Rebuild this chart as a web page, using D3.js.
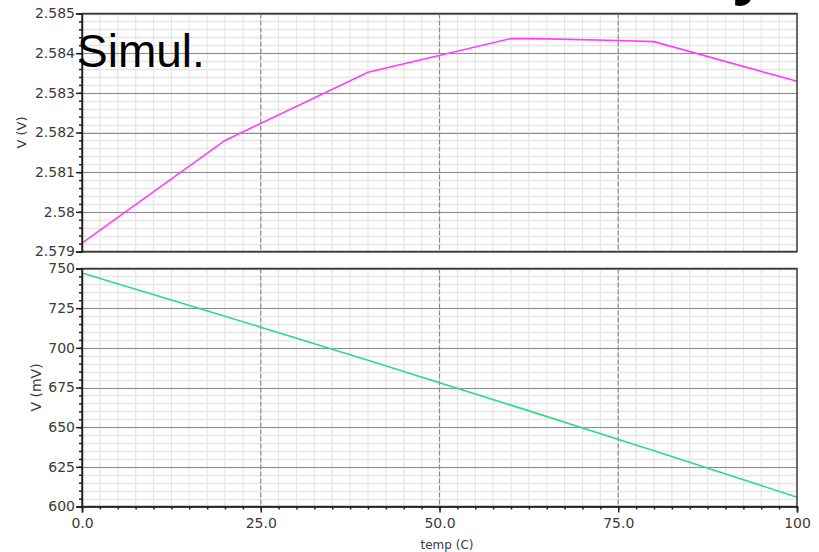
<!DOCTYPE html>
<html>
<head>
<meta charset="utf-8">
<script src="https://cdn.jsdelivr.net/npm/d3@7"></script>
<style>
  html, body { margin: 0; padding: 0; background: #fff; }
  svg { display: block; font-family: "DejaVu Sans", sans-serif; }
</style>
</head>
<body>
<svg id="chart" width="819" height="552"></svg>
<script>
// ---- data ----
const tempTop = [0, 20, 40, 60, 65, 75, 80, 100];
const vTop = [2.57921, 2.58180, 2.58352, 2.58437, 2.58436, 2.58432, 2.58429, 2.58329];
const tempBottom = [0, 20, 40, 60, 80, 100];
const vBottom = [747.1, 719.9, 692.2, 663.9, 635.2, 605.9];

const xTicks = [0, 25, 50, 75, 100];
const xTickLabels = ["0.0", "25.0", "50.0", "75.0", "100"];
const topTicks = [2.585, 2.584, 2.583, 2.582, 2.581, 2.580, 2.579];
const topTickLabels = ["2.585", "2.584", "2.583", "2.582", "2.581", "2.58", "2.579"];
const bottomTicks = [750, 725, 700, 675, 650, 625, 600];
const bottomTickLabels = ["750", "725", "700", "675", "650", "625", "600"];

const xTitle = "temp (C)";
const topTitle = "V (V)";
const bottomTitle = "V (mV)";
const overlayText = "Simul.";

// ---- layout ----
const svg = d3.select("#chart");
const L = 82, R = 797;
const panels = [
  { top: 13.5, bottom: 251.5, domain: [2.579, 2.585], ticks: topTicks, labels: topTickLabels,
    minorStep: 0.0002, xs: tempTop, ys: vTop, color: "#ff3dff", title: topTitle, titleX: 26, titleSize: 13 },
  { top: 268.5, bottom: 506.5, domain: [600, 750], ticks: bottomTicks, labels: bottomTickLabels,
    minorStep: 5, xs: tempBottom, ys: vBottom, color: "#2fdc86", title: bottomTitle, titleX: 41, titleSize: 14 }
];

const x = d3.scaleLinear().domain([0, 100]).range([L, R]);
const xMinor = d3.range(0, 100.0001, 2.5);

panels.forEach((p, pi) => {
  const y = d3.scaleLinear().domain(p.domain).range([p.bottom, p.top]);
  const n = Math.round((p.domain[1] - p.domain[0]) / p.minorStep);
  const yMinor = d3.range(0, n + 1).map(i => p.domain[0] + i * p.minorStep);
  const g = svg.append("g");

  // minor grid
  g.selectAll(".vmin").data(xMinor).join("line")
    .attr("x1", d => x(d)).attr("x2", d => x(d))
    .attr("y1", p.top).attr("y2", p.bottom)
    .attr("stroke", "#e6e6e6").attr("stroke-width", 1.3);
  g.selectAll(".hmin").data(yMinor).join("line")
    .attr("x1", L).attr("x2", R)
    .attr("y1", d => Math.round(y(d)) + 0.5).attr("y2", d => Math.round(y(d)) + 0.5)
    .attr("stroke", "#e6e6e6").attr("stroke-width", 1.3);

  // major grid
  g.selectAll(".hmaj").data(p.ticks).join("line")
    .attr("x1", L).attr("x2", R)
    .attr("y1", d => Math.round(y(d)) + 0.5).attr("y2", d => Math.round(y(d)) + 0.5)
    .attr("stroke", "#8c8c8c").attr("stroke-width", 1.2);
  g.selectAll(".vmaj").data(xTicks.slice(1, -1)).join("line")
    .attr("x1", d => x(d)).attr("x2", d => x(d))
    .attr("y1", p.top).attr("y2", p.bottom)
    .attr("stroke", "#8c8c8c").attr("stroke-width", 1.2)
    .attr("stroke-dasharray", "5,2");

  // data line
  const line = d3.line().x((d, i) => x(p.xs[i])).y(d => y(d));
  g.append("path").datum(p.ys)
    .attr("d", line)
    .attr("fill", "none")
    .attr("stroke", p.color)
    .attr("stroke-width", 1.6);

  // frame
  g.append("rect")
    .attr("x", L).attr("y", p.top)
    .attr("width", R - L).attr("height", p.bottom - p.top)
    .attr("fill", "none").attr("stroke", "#3a3a3a").attr("stroke-width", 1.5);

  // left axis: minor ticks
  const yAxisMinor = d3.axisLeft(y).tickValues(yMinor).tickSize(3).tickFormat("");
  const gm = g.append("g").attr("transform", `translate(${L},0)`).call(yAxisMinor);
  gm.select(".domain").remove();
  gm.selectAll("line").attr("stroke", "#222").attr("stroke-width", 1.5);

  // left axis: major ticks and labels
  const yAxis = d3.axisLeft(y).tickValues(p.ticks).tickSize(6).tickPadding(1)
    .tickFormat((d, i) => p.labels[i]);
  const ga = g.append("g").attr("transform", `translate(${L},0)`).call(yAxis);
  ga.select(".domain").attr("stroke", "#222").attr("stroke-width", 1.5);
  ga.selectAll("line").attr("stroke", "#222").attr("stroke-width", 1.5);
  ga.selectAll("text").style("font-size", "14px").attr("fill", "#3a3a3a")
    .style("font-family", "DejaVu Sans, sans-serif");

  // y title
  svg.append("text")
    .attr("transform", `translate(${p.titleX},${(p.top + p.bottom) / 2}) rotate(-90)`)
    .attr("text-anchor", "middle")
    .style("font-size", p.titleSize + "px")
    .style("font-family", "DejaVu Sans, sans-serif")
    .attr("fill", "#3a3a3a")
    .text(p.title);

  // bottom axis only on lower panel
  if (pi === 1) {
    const xAxisMinor = d3.axisBottom(x).tickValues(xMinor).tickSize(3).tickFormat("");
    const gxm = g.append("g").attr("transform", `translate(0,${p.bottom})`).call(xAxisMinor);
    gxm.select(".domain").remove();
    gxm.selectAll("line").attr("stroke", "#222").attr("stroke-width", 1.5);

    const xAxis = d3.axisBottom(x).tickValues(xTicks).tickSize(6).tickPadding(6)
      .tickFormat((d, i) => xTickLabels[i]);
    const gx = g.append("g").attr("transform", `translate(0,${p.bottom})`).call(xAxis);
    gx.select(".domain").attr("stroke", "#222").attr("stroke-width", 1.5);
    gx.selectAll("line").attr("stroke", "#222").attr("stroke-width", 1.5);
    gx.selectAll("text").style("font-size", "14px").attr("fill", "#3a3a3a")
      .style("font-family", "DejaVu Sans, sans-serif");

    svg.append("text")
      .attr("x", 447).attr("y", 549)
      .attr("text-anchor", "middle")
      .style("font-size", "12px")
      .style("font-family", "DejaVu Sans, sans-serif")
      .attr("fill", "#3a3a3a")
      .text(xTitle);
  }
});

// overlay label
svg.append("text")
  .attr("x", 77).attr("y", 66.5)
  .style("font-family", "'Liberation Sans', Arial, sans-serif")
  .style("font-size", "46px")
  .attr("fill", "#000")
  .text(overlayText);

// cropped glyph fragment at top edge
svg.append("text")
  .attr("x", 732).attr("y", -7)
  .style("font-family", "'Liberation Sans', Arial, sans-serif")
  .style("font-weight", "bold")
  .style("font-size", "62px")
  .attr("fill", "#000")
  .text("y");
</script>
</body>
</html>
